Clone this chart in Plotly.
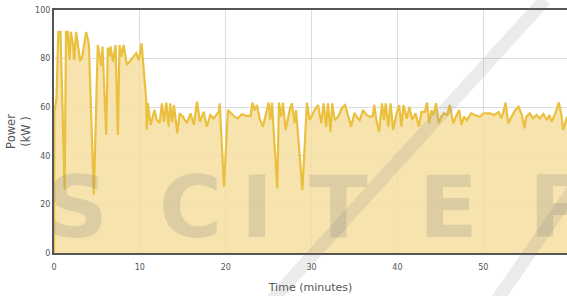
import plotly.graph_objects as go

time_min = [0, 0.05, 0.3, 0.5, 0.76, 1.24, 1.4, 1.6, 1.8, 1.96, 2.2, 2.35, 2.58, 2.8, 3.05, 3.3, 3.75, 4.06, 4.64,
            5.1, 5.5, 5.65, 6.08, 6.27, 6.47, 6.58, 6.86, 7.17, 7.44, 7.63, 7.83, 8.1, 8.49, 9.58, 9.89, 10.2, 10.47,
            10.74, 10.8, 10.94, 11.25, 11.7, 11.98, 12.3, 12.57, 12.8, 13.08, 13.35, 13.54, 13.78, 13.97, 14.36,
            14.63, 15.02, 15.48, 15.91, 16.3, 16.65, 17.0, 17.43, 17.8, 18.2, 18.6, 19.17, 19.3, 19.8, 20.26, 20.65,
            21.04, 21.4, 21.9, 22.4, 22.9, 23.1, 23.37, 23.64, 23.95, 24.33, 24.73, 25.0, 25.2, 25.39, 26.0, 26.2,
            26.48, 26.67, 26.98, 27.45, 27.7, 28.03, 28.2, 28.93, 29.46, 29.78, 30.36, 30.75, 31.14, 31.4, 31.7,
            31.9, 32.2, 32.4, 32.7, 33.1, 33.5, 33.9, 34.36, 34.6, 35.0, 35.3, 35.6, 36.0, 36.4, 36.8, 37.1, 37.3,
            37.55, 37.86, 38.2, 38.44, 38.64, 38.95, 39.2, 39.5, 39.9, 40.2, 40.47, 40.7, 41.1, 41.4, 41.7, 42.1,
            42.5, 42.8, 43.2, 43.45, 43.7, 43.96, 44.2, 44.5, 44.8, 45.1, 45.4, 45.8, 46.1, 46.5, 46.9, 47.2, 47.45,
            47.76, 48.1, 48.6, 49.0, 49.6, 50.0, 50.75, 51.3, 51.8, 52.1, 52.3, 52.6, 52.9, 53.3, 53.7, 54.1, 54.5,
            54.8, 55.0, 55.4, 55.8, 56.2, 56.6, 57.0, 57.4, 57.7, 57.95, 58.4, 58.8, 59.1, 59.3, 59.7, 60.0]

power_kw = [0, 58, 64, 91, 91, 26, 91, 91, 79.5, 91, 86, 79.5, 91, 85, 79, 81, 91, 86, 24,
            85.6, 77, 85, 48.6, 84.5, 80.8, 85, 78.7, 85.6, 48.6, 85.6, 80.8, 85.6, 77.4, 82.2, 79.4, 86.3, 75.3,
            63, 50.6, 61.7, 52.7, 58.8, 54.7, 53.5, 61.6, 54, 61.9, 52, 61.6, 54, 60.9, 49.3,
            57.5, 56.1, 53.4, 57.5, 52.7, 62.3, 54, 58.1, 52, 56.8, 55.4, 58.1, 61.6, 27.3, 58.8, 57.5,
            56.1, 55.4, 57.2, 56.4, 56.4, 61.9, 58.8, 60.9, 55.4, 52, 58.1, 61.9, 54.7, 61.9, 26.6, 61.9,
            56.1, 61.9, 50.6, 58.8, 61.6, 53.4, 58.8, 25.9, 61.9, 54.7, 58.8, 60.9, 53.4, 61.6, 52,
            61.6, 49.9, 61.6, 54.7, 56.1, 59.5, 60.9, 55.4, 52, 57.7, 55.8, 54.7, 58.8, 56.8, 56.1, 56.1, 60.9,
            54.7, 49.9, 61.6, 54.7, 61.6, 52, 61.6, 50.6, 57.5, 60.9, 52, 60.9, 55.4, 60.2, 54.7, 57.5,
            52, 58.1, 58.1, 61.9, 53.4, 58.8, 56.8, 61.6, 53.4, 56.1, 57.5, 56.8, 60.9, 53.4, 56.8, 58.8, 52.7,
            56.1, 54.7, 57.5, 56.8, 56.1, 57.5, 57.5, 56.8, 58.0, 55.5, 57.5, 61.9, 53.4, 56.1, 58.8, 60.2, 56.8,
            51.3, 56.1, 57.5, 55.4, 56.8, 55.4, 57.2, 54.7, 56.8, 54, 57.5, 61.9, 56.8, 50.6, 55.4, 57]

x_ticks = [0, 10, 20, 30, 40, 50]
y_ticks = [0, 20, 40, 60, 80, 100]

watermark_letters = ["S", "C", "I", "T", "E", "P"]

fig = go.Figure()
fig.add_trace(go.Scatter(
    x=time_min, y=power_kw, mode="lines", fill="tozeroy",
    line=dict(color="#EBC03F", width=2.2),
    fillcolor="rgba(245,222,160,0.85)",
    hoverinfo="skip", showlegend=False,
))

# faint publisher watermark (placed in paper coordinates, pixel-derived)
W, H, L, T = 513.0, 243.0, 54.0, 10.0
def px(x):
    return (x - L) / W
def py(y):
    return (T + H - y) / H

wm = "rgba(120,120,120,0.2)"
wm_line = "rgba(120,120,120,0.15)"
letter_centres = [77, 190, 257, 338, 448, 560]
for ch, cx in zip(watermark_letters, letter_centres):
    fig.add_annotation(text="<b>%s</b>" % ch, xref="paper", yref="paper", x=px(cx), y=py(207),
                       xanchor="center", yanchor="middle", showarrow=False,
                       font=dict(family="DejaVu Sans", size=86, color=wm))
fig.add_shape(type="line", xref="paper", yref="paper", x0=px(545), y0=py(0), x1=px(272), y1=py(300),
              line=dict(color=wm_line, width=13), layer="above")
fig.add_shape(type="line", xref="paper", yref="paper", x0=px(580), y0=py(180), x1=px(497), y1=py(300),
              line=dict(color=wm_line, width=13), layer="above")

fig.update_layout(
    width=567, height=296,
    margin=dict(l=54, r=0, t=10, b=43, autoexpand=False),
    paper_bgcolor="white", plot_bgcolor="white",
    font=dict(family="DejaVu Sans", color="#555"),
)
fig.update_xaxes(
    range=[0, 59.75], tickvals=x_ticks, ticktext=[str(v) for v in x_ticks],
    showgrid=True, gridcolor="#dcdcdc", gridwidth=1, zeroline=False,
    showline=True, linecolor="#555", linewidth=2, mirror=True,
    ticks="", tickfont=dict(size=8, color="#555"), automargin=False, ticklabelstandoff=5,
    title=dict(text="Time (minutes)", font=dict(size=11, color="#555"), standoff=13),
)
fig.update_yaxes(
    range=[0, 100], tickvals=y_ticks, ticktext=[str(v) for v in y_ticks],
    showgrid=True, gridcolor="#dcdcdc", gridwidth=1, zeroline=False,
    showline=True, linecolor="#555", linewidth=2, automargin=False,
    ticks="", tickfont=dict(size=8, color="#555"),
    title=dict(text="Power<br>(kW )", font=dict(size=11.5, color="#555"), standoff=2),
)
fig.write_html("out.html", config={"displayModeBar": False},
               post_script="document.body.style.margin='0';document.body.style.overflow='hidden';")
